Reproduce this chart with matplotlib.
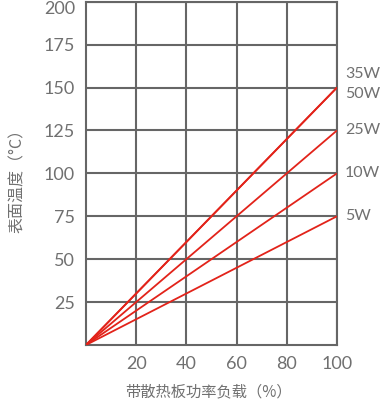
import matplotlib
matplotlib.use('Agg')
import matplotlib.pyplot as plt
import matplotlib.transforms as mtransforms
import numpy as np

plt.rcParams['font.family'] = ['Noto Sans CJK SC', 'DejaVu Sans']

# datos
carga = [0, 100]
series = ['35W', '50W', '25W', '10W', '5W']
temp_max = [150, 150, 125, 100, 75]
x_ticks = [20, 40, 60, 80, 100]
y_ticks = [25, 50, 75, 100, 125, 150, 175, 200]

GRIS = '#666666'
TEXTO = '#707070'
ROJO = '#e2231a'
NUM = ['Lato', 'DejaVu Sans']  # para los numeros

fig = plt.figure(figsize=(3.82, 4.0), dpi=100)
ax = fig.add_axes([0.225, 0.1375, 0.657, 0.858])

for nombre, t in zip(series, temp_max):
    ax.plot(carga, [0, t], color=ROJO, lw=1.3, solid_capstyle='butt', zorder=3)

# desplazamiento vertical de etiquetas (pixeles) para que no se pisen
offsets = {'35W': 14, '50W': -6}
for nombre, t in zip(series, temp_max):
    ax.annotate(nombre, xy=(100, t), xytext=(8, offsets.get(nombre, 0)),
                textcoords='offset pixels', ha='left', va='center',
                fontsize=11.5, color=TEXTO, family=NUM,
                annotation_clip=False)

ax.set_xlim(0, 100)
ax.set_ylim(0, 200)
ax.set_xticks(x_ticks)
ax.set_yticks(y_ticks)
ax.tick_params(length=0, labelcolor=TEXTO, pad=8)
for lab in ax.get_xticklabels() + ax.get_yticklabels():
    lab.set_family(NUM)
    lab.set_fontsize(13)
# el 200 queda un poco mas abajo para no cortarse
top = ax.get_yticklabels()[-1]
top.set_transform(top.get_transform() + mtransforms.ScaledTranslation(0, -6 / 100, fig.dpi_scale_trans))

ax.grid(True, color=GRIS, lw=1.5)
ax.set_axisbelow(True)
for s in ax.spines.values():
    s.set_color(GRIS)
    s.set_linewidth(1.5)

fig.text(0.545, 0.02, '带散热板功率负载（%）', fontsize=11, color=TEXTO,
         ha='center', va='center', weight='light')
fig.text(0.045, 0.557, '表面温度（°C）', fontsize=11.5, color=TEXTO,
         ha='center', va='center', rotation=90, weight='light')

fig.savefig('out.png', dpi=100)
